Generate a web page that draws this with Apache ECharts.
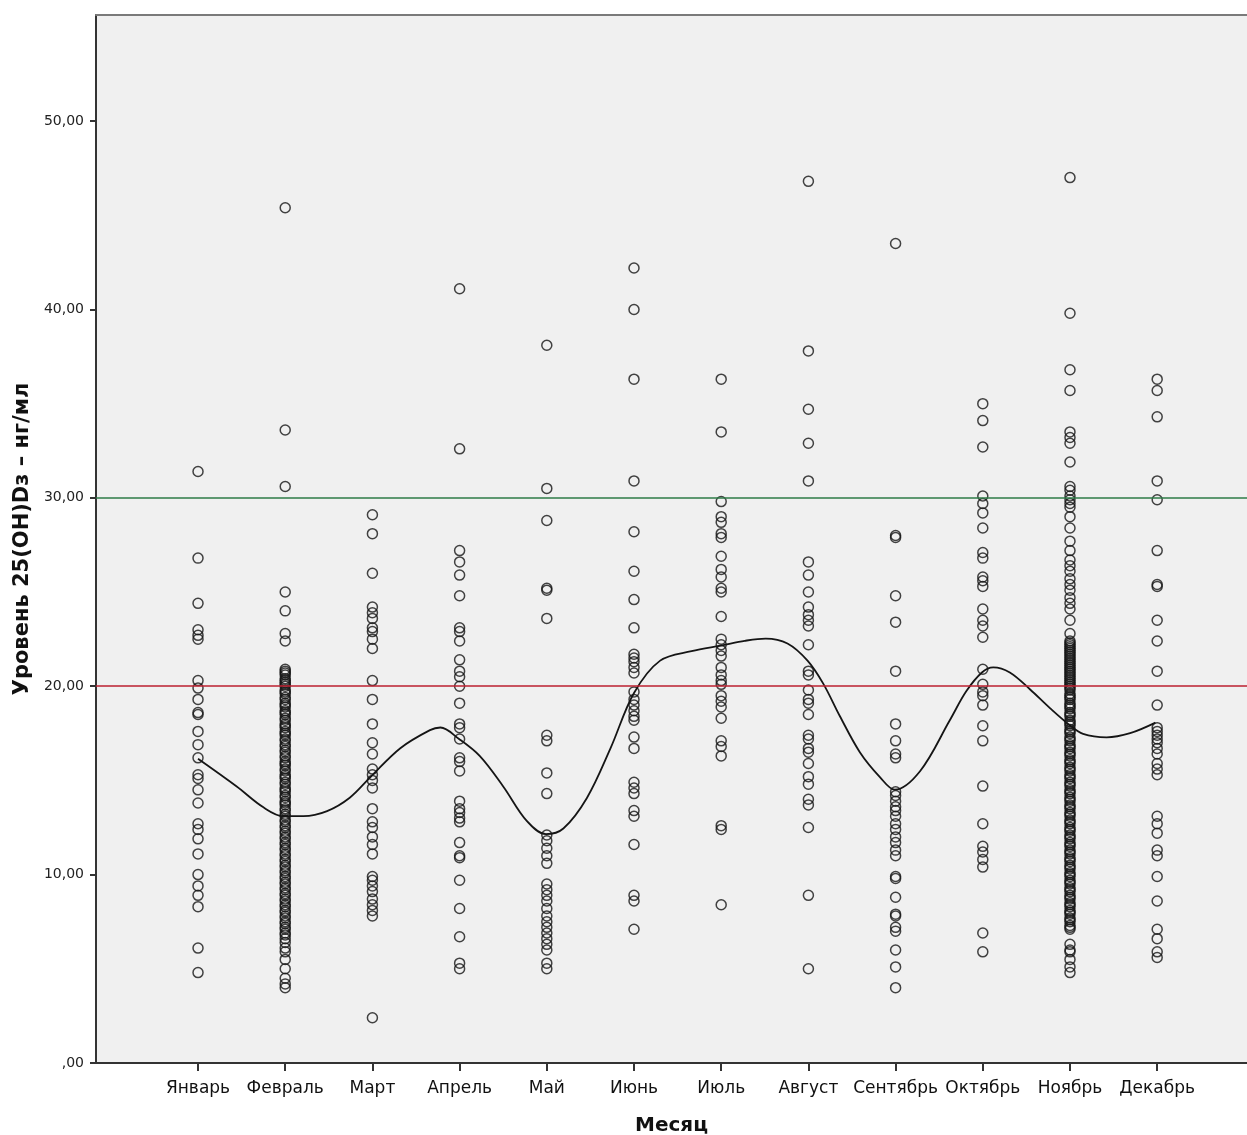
<!DOCTYPE html>
<html>
<head>
<meta charset="utf-8">
<script src="https://cdn.jsdelivr.net/npm/echarts@6/dist/echarts.min.js"></script>
<style>
  html, body { margin: 0; padding: 0; background: #ffffff; }
  #chart { width: 1247px; height: 1135px; }
</style>
</head>
<body>
<div id="chart"></div>
<script>
// Month labels on the horizontal axis
const months = ['Январь', 'Февраль', 'Март', 'Апрель', 'Май', 'Июнь',
                'Июль', 'Август', 'Сентябрь', 'Октябрь', 'Ноябрь', 'Декабрь'];

// Y tick values and their labels
const yTicks = [0, 10, 20, 30, 40, 50];
const yTickLabels = [',00', '10,00', '20,00', '30,00', '40,00', '50,00'];

// Reference levels, ng/ml
const deficiencyLevel = 20;
const sufficiencyLevel = 30;

// 25(OH)D3 measurements per month, ng/ml
const jan = [31.4, 26.8, 24.4, 23.0, 22.7, 22.5, 20.3, 19.9, 19.3, 18.6, 18.5, 17.6, 16.9, 16.2,
             15.3, 15.1, 14.5, 13.8, 12.7, 12.4, 11.9, 11.1, 10.0, 9.4, 8.9, 8.3, 6.1, 4.8];
const feb = [45.4, 33.6, 30.6, 25.0, 24.0, 22.8, 22.4,
             20.9, 20.8, 20.7, 20.6, 20.4, 20.3, 20.2, 20.1, 20.0, 19.8, 19.7, 19.6, 19.4, 19.3,
             19.1, 19.0, 18.9, 18.7, 18.6, 18.5, 18.3, 18.2, 18.0, 17.9, 17.8, 17.6, 17.5, 17.4,
             17.2, 17.1, 16.9, 16.8, 16.6, 16.5, 16.3, 16.2, 16.0, 15.9, 15.8, 15.6, 15.5, 15.3,
             15.2, 15.1, 14.9, 14.8, 14.6, 14.5, 14.4, 14.2, 14.1, 13.9, 13.8, 13.7, 13.5, 13.4,
             13.2, 13.1, 12.9, 12.8, 12.6, 12.5, 12.3, 12.2, 12.0, 11.9, 11.7, 11.6, 11.4, 11.3,
             11.1, 11.0, 10.8, 10.7, 10.5, 10.4, 10.2, 10.1, 9.9, 9.8, 9.6, 9.5, 9.3, 9.2, 9.0,
             8.9, 8.7, 8.6, 8.4, 8.3, 8.1, 8.0, 7.8, 7.7, 7.5, 7.4, 7.2, 7.1, 6.9, 6.8, 6.6, 6.4,
             6.1, 5.9, 5.5, 5.0, 4.5, 4.2, 4.0];
const mar = [29.1, 28.1, 26.0, 24.2, 23.9, 23.6, 23.1, 22.9, 22.5, 22.0, 20.3, 19.3, 18.0, 17.0,
             16.4, 15.6, 15.3, 15.0, 14.6, 13.5, 12.8, 12.5, 12.0, 11.6, 11.1, 9.9, 9.7, 9.4,
             9.1, 8.7, 8.4, 8.1, 7.8, 2.4];
const apr = [41.1, 32.6, 27.2, 26.6, 25.9, 24.8, 23.1, 22.9, 22.4, 21.4, 20.8, 20.5, 20.0, 19.1,
             18.0, 17.8, 17.2, 16.2, 16.0, 15.5, 13.9, 13.5, 13.3, 13.0, 12.8, 11.7, 11.0, 10.9,
             9.7, 8.2, 6.7, 5.3, 5.0];
const may = [38.1, 30.5, 28.8, 25.2, 25.1, 23.6, 17.4, 17.1, 15.4, 14.3, 12.1, 11.8, 11.4, 11.0,
             10.6, 9.5, 9.2, 8.9, 8.6, 8.2, 7.8, 7.5, 7.2, 6.9, 6.6, 6.3, 6.0, 5.3, 5.0];
const jun = [42.2, 40.0, 36.3, 30.9, 28.2, 26.1, 24.6, 23.1, 21.7, 21.5, 21.3, 21.0, 20.7, 19.7,
             19.3, 19.0, 18.7, 18.4, 18.2, 17.3, 16.7, 14.9, 14.6, 14.3, 13.4, 13.1, 11.6, 8.9,
             8.6, 7.1];
const jul = [36.3, 33.5, 29.8, 29.0, 28.7, 28.1, 27.9, 26.9, 26.2, 25.8, 25.2, 25.0, 23.7, 22.5,
             22.2, 21.9, 21.6, 21.0, 20.6, 20.3, 20.1, 19.5, 19.2, 18.9, 18.3, 17.1, 16.8, 16.3,
             12.6, 12.4, 8.4];
const aug = [46.8, 37.8, 34.7, 32.9, 30.9, 26.6, 25.9, 25.0, 24.2, 23.8, 23.5, 23.2, 22.2, 20.8,
             20.6, 19.8, 19.3, 19.1, 18.5, 17.4, 17.2, 16.7, 16.5, 15.9, 15.2, 14.8, 14.0, 13.7,
             12.5, 8.9, 5.0];
const sep = [43.5, 28.0, 27.9, 24.8, 23.4, 20.8, 18.0, 17.1, 16.4, 16.2, 14.4, 14.2, 13.9, 13.6,
             13.4, 13.1, 12.7, 12.4, 12.0, 11.7, 11.3, 11.0, 9.9, 9.8, 8.8, 7.9, 7.8, 7.2, 7.0,
             6.0, 5.1, 4.0];
const oct = [35.0, 34.1, 32.7, 30.1, 29.7, 29.2, 28.4, 27.1, 26.8, 25.8, 25.6, 25.3, 24.1, 23.5,
             23.2, 22.6, 20.9, 20.1, 19.7, 19.5, 19.0, 17.9, 17.1, 14.7, 12.7, 11.5, 11.2, 10.8,
             10.4, 6.9, 5.9];
const nov = [47.0, 39.8, 36.8, 35.7, 33.5, 33.2, 32.9, 31.9, 30.6, 30.4, 30.1, 29.9, 29.7, 29.5,
             29.0, 28.4, 27.7, 27.2, 26.7, 26.4, 26.1, 25.7, 25.4, 25.1, 24.7, 24.4, 24.1, 23.5,
             22.8, 22.4, 22.3, 22.2, 22.1, 22.0, 21.9, 21.8, 21.7, 21.6, 21.5, 21.4, 21.3, 21.2,
             21.1, 21.0, 20.9, 20.8, 20.7, 20.6, 20.5, 20.4, 20.3, 20.2, 20.1, 20.0, 19.9, 19.8,
             19.6, 19.5, 19.4, 19.3, 19.1, 19.0, 18.9, 18.8, 18.6, 18.5, 18.4, 18.2, 18.1, 18.0,
             17.9, 17.7, 17.6, 17.5, 17.3, 17.2, 17.1, 16.9, 16.8, 16.7, 16.5, 16.4, 16.3, 16.1,
             16.0, 15.9, 15.7, 15.6, 15.5, 15.3, 15.2, 15.1, 14.9, 14.8, 14.7, 14.5, 14.4, 14.3,
             14.1, 14.0, 13.9, 13.7, 13.6, 13.5, 13.3, 13.2, 13.1, 12.9, 12.8, 12.7, 12.5, 12.4,
             12.3, 12.1, 12.0, 11.9, 11.7, 11.6, 11.5, 11.3, 11.2, 11.1, 10.9, 10.8, 10.7, 10.5,
             10.4, 10.3, 10.1, 10.0, 9.9, 9.7, 9.6, 9.5, 9.3, 9.2, 9.1, 8.9, 8.8, 8.7, 8.5, 8.4,
             8.3, 8.1, 8.0, 7.9, 7.7, 7.6, 7.5, 7.3, 7.2, 7.1, 6.3, 6.0, 5.9, 5.5, 5.1, 4.8];
const dec = [36.3, 35.7, 34.3, 30.9, 29.9, 27.2, 25.4, 25.3, 23.5, 22.4, 20.8, 19.0, 17.8, 17.6,
             17.4, 17.2, 17.0, 16.7, 16.4, 15.9, 15.6, 15.3, 13.1, 12.7, 12.2, 11.3, 11.0, 9.9,
             8.6, 7.1, 6.6, 5.9, 5.6];

const monthValues = [jan, feb, mar, apr, may, jun, jul, aug, sep, oct, nov, dec];

// Smoothed trend, [month position, ng/ml]
const trendMonth = [1.00, 1.44, 1.75, 1.98, 2.21, 2.48, 2.74, 2.98, 3.32, 3.66, 3.78, 3.99, 4.23,
                    4.50, 4.77, 4.99, 5.19, 5.46, 5.73, 6.00, 6.30, 6.66, 7.01, 7.27, 7.51, 7.76,
                    7.99, 8.17, 8.36, 8.59, 8.82, 8.99, 9.28, 9.62, 9.81, 9.99, 10.12, 10.31,
                    10.54, 10.77, 10.99, 11.15, 11.42, 11.69, 11.98];
const trendValue = [16.15, 14.69, 13.57, 13.10, 13.10, 13.37, 14.08, 15.19, 16.71, 17.67, 17.81,
                    17.21, 16.30, 14.68, 12.85, 12.15, 12.45, 14.07, 16.70, 19.64, 21.36, 21.86,
                    22.17, 22.41, 22.53, 22.27, 21.36, 20.14, 18.42, 16.50, 15.18, 14.51, 15.49,
                    18.18, 19.73, 20.73, 21.00, 20.73, 19.84, 18.84, 17.96, 17.47, 17.29, 17.51,
                    18.07];

// Build chart data from the arrays above
const points = [];
monthValues.forEach((vals, i) => vals.forEach(v => points.push([i + 1, v])));
const trend = trendMonth.map((m, i) => [m, trendValue[i]]);
const monthPositions = months.map((_, i) => i + 1);

const chart = echarts.init(document.getElementById('chart'), null, { renderer: 'canvas' });

const labelFont = 'DejaVu Sans';

chart.setOption({
  animation: false,
  backgroundColor: '#ffffff',
  grid: {
    left: 96, top: 15, right: 0, bottom: 72,
    outerBoundsMode: 'none',
    containLabel: false,
    show: true,
    backgroundColor: '#f0f0f0',
    borderWidth: 0
  },
  xAxis: [
    {
      type: 'value',
      min: -0.17,
      max: 13.03,
      name: 'Месяц',
      nameLocation: 'middle',
      nameGap: 53,
      nameTextStyle: { fontFamily: labelFont, fontSize: 20, fontWeight: 'bold', color: '#111' },
      axisLine: { show: true, onZero: false, lineStyle: { color: '#333', width: 2 } },
      splitLine: { show: false },
      axisTick: {
        show: true, inside: false, length: 8,
        customValues: monthPositions,
        lineStyle: { color: '#333', width: 2 }
      },
      axisLabel: {
        customValues: monthPositions,
        margin: 17,
        fontFamily: labelFont, fontSize: 17, color: '#111',
        formatter: v => months[Math.round(v) - 1] || ''
      }
    },
    {
      // frame edge along the top of the plot
      type: 'value',
      position: 'top',
      min: -0.17,
      max: 13.03,
      axisLine: { show: true, onZero: false, lineStyle: { color: '#7a7a7a', width: 2 } },
      axisTick: { show: false },
      axisLabel: { show: false },
      splitLine: { show: false }
    }
  ],
  yAxis: {
    type: 'value',
    min: 0,
    max: 55.63,
    name: 'Уровень 25(OH)Dз – нг/мл',
    nameLocation: 'middle',
    nameGap: 63,
    nameTextStyle: { fontFamily: labelFont, fontSize: 21, fontWeight: 'bold', color: '#111' },
    axisLine: { show: true, onZero: false, lineStyle: { color: '#333', width: 2 } },
    splitLine: { show: false },
    axisTick: {
      show: true, inside: false, length: 6,
      customValues: yTicks,
      lineStyle: { color: '#333', width: 2 }
    },
    axisLabel: {
      customValues: yTicks,
      margin: 12,
      fontFamily: labelFont, fontSize: 14, color: '#222',
      formatter: v => yTickLabels[yTicks.indexOf(Math.round(v))] || ''
    }
  },
  series: [
    {
      type: 'scatter',
      data: points,
      symbol: 'circle',
      symbolSize: 10,
      itemStyle: { color: 'rgba(0,0,0,0)', borderColor: '#151515', borderWidth: 1.5 },
      silent: true,
      z: 3
    },
    {
      type: 'line',
      data: trend,
      smooth: 0.35,
      showSymbol: false,
      lineStyle: { color: '#151515', width: 1.8 },
      silent: true,
      z: 4,
      markLine: {
        silent: true,
        symbol: ['none', 'none'],
        label: { show: false },
        data: [
          { yAxis: sufficiencyLevel, lineStyle: { color: '#2e7b47', width: 1.6, type: 'solid' } },
          { yAxis: deficiencyLevel, lineStyle: { color: '#bd2130', width: 1.6, type: 'solid' } }
        ]
      }
    }
  ]
});
</script>
</body>
</html>
